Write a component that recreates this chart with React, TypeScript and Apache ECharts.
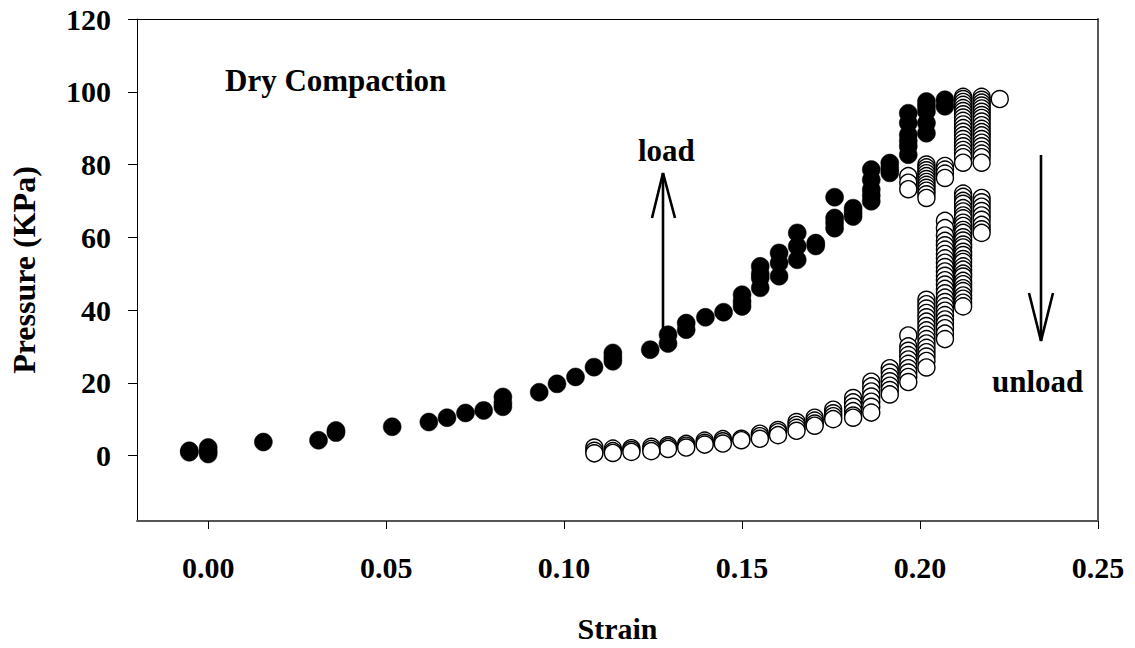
import React, { useEffect, useRef } from "react";
import * as echarts from "echarts";

// Loading branch: [strain, pressure (KPa)]
const loadPoints: number[][] = [
  [-0.0053, 0.9], [-0.0053, 1.3], [0.0, 2.2], [0.0, 0.4], [0.0, 1.2],
  [0.0155, 3.7], [0.031, 4.2], [0.0359, 6.9], [0.0359, 6.3], [0.0517, 7.9],
  [0.062, 9.2], [0.0671, 10.4], [0.0723, 11.7], [0.0774, 12.4],
  [0.0828, 16.1], [0.0828, 13.4], [0.0828, 14.5], [0.093, 17.4],
  [0.098, 19.7], [0.1032, 21.6], [0.1084, 24.3],
  [0.1137, 28.2], [0.1137, 25.9], [0.1137, 27.0], [0.1242, 29.1],
  [0.1292, 33.2], [0.1292, 30.8], [0.1343, 36.4], [0.1343, 34.6],
  [0.1397, 38.0], [0.1448, 39.4],
  [0.15, 44.2], [0.15, 42.4], [0.15, 41.0],
  [0.1551, 52.0], [0.1551, 48.8], [0.1551, 46.1], [0.1551, 50.0],
  [0.1604, 55.7], [0.1604, 52.9], [0.1604, 49.3],
  [0.1655, 61.2], [0.1655, 57.5], [0.1655, 53.8],
  [0.1707, 58.4], [0.1707, 57.6],
  [0.176, 71.0], [0.176, 65.3], [0.176, 62.5], [0.176, 64.0],
  [0.1812, 68.0], [0.1812, 65.7], [0.1812, 66.8],
  [0.1863, 78.6], [0.1863, 75.8], [0.1863, 73.1], [0.1863, 69.9], [0.1863, 71.5],
  [0.1915, 80.4], [0.1915, 77.7], [0.1915, 79.0],
  [0.1967, 94.1], [0.1967, 91.4], [0.1967, 88.2], [0.1967, 85.0], [0.1967, 82.7], [0.1967, 86.5],
  [0.2018, 97.3], [0.2018, 94.6], [0.2018, 91.4], [0.2018, 88.6], [0.2018, 96.0],
  [0.207, 97.8], [0.207, 96.0],
];

// Unloading branch: strain columns and the pressures read in each column
const unloadStrain: number[] = [
  0.2224, 0.2173, 0.2121, 0.207, 0.2018, 0.1967,
  0.2173, 0.2121, 0.207, 0.2018, 0.1967,
  0.1915, 0.1863, 0.1812, 0.1756, 0.1704, 0.1653, 0.1601, 0.155, 0.1498,
  0.1446, 0.1395, 0.1343, 0.1292, 0.1245, 0.1189, 0.1137, 0.1085,
];
const unloadPressure: number[][] = [
  [98.0],
  [98.6, 97.8, 97.0, 96.2, 95.4, 94.5, 93.6, 92.8, 91.8, 90.8, 89.8, 88.9, 88.0, 87.0, 86.0, 85.0, 84.0, 83.0, 82.0, 80.5],
  [98.6, 98.0, 97.2, 96.4, 95.5, 94.7, 93.8, 92.9, 92.0, 91.0, 90.0, 89.0, 88.0, 87.0, 86.0, 85.0, 84.0, 83.0, 82.0, 80.5],
  [79.6, 78.6, 77.5, 76.3],
  [80.0, 79.2, 78.4, 77.6, 76.8, 76.0, 75.2, 74.4, 73.6, 72.8, 71.8, 70.8],
  [76.8, 75.0, 73.2],
  [70.8, 69.6, 68.4, 67.2, 66.0, 64.8, 63.4, 62.2, 61.2],
  [72.0, 71.1, 70.0, 69.2, 68.0, 67.1, 66.0, 65.2, 64.0, 63.1, 62.0, 61.2, 60.0, 59.1, 58.0, 57.2, 56.0, 55.1, 54.0, 53.2, 52.0, 51.1, 50.0, 49.2, 48.0, 47.1, 46.0, 45.2, 44.0, 43.1, 42.0, 41.0],
  [64.5, 62.5, 60.5, 59.0, 57.8, 56.6, 55.4, 54.2, 53.0, 51.8, 50.6, 49.4, 48.2, 47.0, 45.8, 44.6, 43.4, 42.2, 41.0, 39.8, 38.6, 37.4, 36.2, 35.0, 33.5, 32.0],
  [42.8, 41.6, 40.4, 39.2, 38.0, 36.8, 35.6, 34.4, 33.2, 32.0, 30.8, 29.6, 28.4, 27.2, 26.0, 24.2],
  [33.0, 30.0, 28.8, 27.6, 26.4, 25.2, 24.0, 22.8, 21.6, 20.2],
  [24.0, 22.8, 21.6, 20.4, 19.2, 18.0, 16.8],
  [20.3, 19.0, 17.6, 16.2, 14.8, 13.4, 11.8],
  [15.8, 14.6, 13.4, 12.2, 11.0, 10.4],
  [12.6, 11.6, 10.8, 10.0],
  [10.4, 9.6, 8.8, 8.2],
  [9.2, 8.4, 7.6, 6.8],
  [7.0, 6.4, 5.6],
  [6.0, 5.3, 4.6],
  [4.6, 4.2],
  [4.5, 3.9, 3.3],
  [4.1, 3.5, 3.0],
  [3.2, 2.7, 2.2],
  [2.8, 2.3, 1.8],
  [2.4, 1.8, 1.2],
  [2.0, 1.5, 1.0],
  [1.9, 1.2, 0.7],
  [2.2, 1.3, 0.6],
];

const xTicks: number[] = [0, 0.05, 0.1, 0.15, 0.2, 0.25];
const yTicks: number[] = [0, 20, 40, 60, 80, 100, 120];

const FONT = "'Liberation Serif', 'Times New Roman', serif";

export default function App() {
  const ref = useRef<HTMLDivElement>(null);

  useEffect(() => {
    if (!ref.current) return;
    const chart = echarts.init(ref.current, null, { renderer: "svg" });

    const unloadPoints: number[][] = [];
    unloadStrain.forEach((s, i) => {
      unloadPressure[i].forEach((p) => unloadPoints.push([s, p]));
    });

    const labelStyle = {
      fontFamily: FONT,
      fontWeight: "bold" as const,
      fontSize: 30,
      color: "#000",
    };

    const option: any = {
      animation: false,
      backgroundColor: "#fff",
      grid: { left: 137, right: 37, top: 19, bottom: 125, containLabel: false },
      xAxis: [
        {
          type: "value",
          position: "bottom",
          min: -0.02,
          max: 0.25,
          splitLine: { show: false },
          axisLine: { show: true, onZero: false, lineStyle: { color: "#555", width: 2 } },
          axisTick: {
            show: true,
            inside: false,
            length: 8,
            customValues: xTicks,
            lineStyle: { color: "#000", width: 1 },
          },
          axisLabel: {
            ...labelStyle,
            margin: 31,
            customValues: xTicks,
            formatter: (v: number) => v.toFixed(2),
          },
          name: "Strain",
          nameLocation: "middle",
          nameGap: 92,
          nameTextStyle: { ...labelStyle },
        },
        {
          type: "value",
          position: "top",
          min: -0.02,
          max: 0.25,
          splitLine: { show: false },
          axisLine: { show: true, onZero: false, lineStyle: { color: "#000", width: 1 } },
          axisTick: { show: false },
          axisLabel: { show: false },
        },
      ],
      yAxis: [
        {
          type: "value",
          position: "left",
          min: -18,
          max: 120,
          splitLine: { show: false },
          axisLine: { show: true, onZero: false, lineStyle: { color: "#000", width: 1 } },
          axisTick: {
            show: true,
            inside: false,
            length: 9,
            customValues: yTicks,
            lineStyle: { color: "#000", width: 1 },
          },
          axisLabel: {
            ...labelStyle,
            margin: 26,
            customValues: yTicks,
            formatter: (v: number) => String(v),
          },
          name: "Pressure (KPa)",
          nameLocation: "middle",
          nameGap: 97,
          nameTextStyle: { ...labelStyle, fontSize: 32 },
        },
        {
          type: "value",
          position: "right",
          min: -18,
          max: 120,
          splitLine: { show: false },
          axisLine: { show: true, onZero: false, lineStyle: { color: "#555", width: 2 } },
          axisTick: { show: false },
          axisLabel: { show: false },
        },
      ],
      series: [
        {
          name: "load",
          type: "scatter",
          xAxisIndex: 0,
          yAxisIndex: 0,
          data: loadPoints,
          symbol: "circle",
          symbolSize: 18,
          itemStyle: { color: "#000", borderColor: "#000", borderWidth: 0.5, opacity: 1 },
        },
        {
          name: "unload",
          type: "scatter",
          xAxisIndex: 0,
          yAxisIndex: 0,
          data: unloadPoints,
          symbol: "circle",
          symbolSize: 17,
          itemStyle: { color: "#fff", borderColor: "#000", borderWidth: 1.4, opacity: 1 },
        },
      ],
      graphic: [
        {
          type: "text",
          left: 225,
          top: 65,
          style: { text: "Dry Compaction", fill: "#000", font: `bold 31px ${FONT}` },
        },
        {
          type: "text",
          left: 638,
          top: 135,
          style: { text: "load", fill: "#000", font: `bold 31px ${FONT}` },
        },
        {
          type: "text",
          left: 992,
          top: 366,
          style: { text: "unload", fill: "#000", font: `bold 31px ${FONT}` },
        },
        {
          type: "line",
          shape: { x1: 663, y1: 333, x2: 663, y2: 173 },
          style: { stroke: "#000", lineWidth: 2.6 },
        },
        {
          type: "polyline",
          shape: { points: [[652, 218], [663, 173], [675, 218]] },
          style: { stroke: "#000", lineWidth: 2.6, fill: null },
        },
        {
          type: "line",
          shape: { x1: 1041, y1: 155, x2: 1041, y2: 341 },
          style: { stroke: "#000", lineWidth: 2.6 },
        },
        {
          type: "polyline",
          shape: { points: [[1029, 293], [1041, 341], [1053, 293]] },
          style: { stroke: "#000", lineWidth: 2.6, fill: null },
        },
      ],
    };

    chart.setOption(option);
    return () => chart.dispose();
  }, []);

  return (
    <div
      ref={ref}
      style={{ position: "fixed", left: 0, top: 0, width: 1135, height: 648, background: "#fff" }}
    />
  );
}
